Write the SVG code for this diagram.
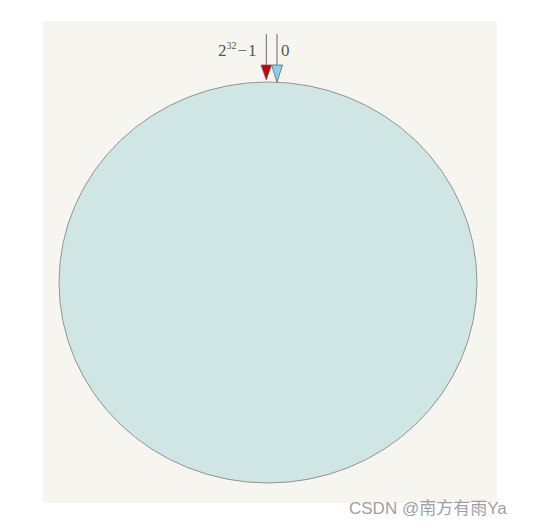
<svg xmlns="http://www.w3.org/2000/svg" width="537" height="525" viewBox="0 0 537 525">
<style>
.lbl{font-family:"Liberation Serif","DejaVu Serif",serif;font-size:17px;fill:#555}
.wm{font-family:"Liberation Sans","Noto Sans CJK SC",sans-serif;font-size:17px;fill:#a0a0a0}
.ln{stroke:#666;stroke-width:1}
.tri{stroke:#666;stroke-width:0.8}
</style>
<rect x="0" y="0" width="537" height="525" fill="#ffffff"/>
<rect x="43" y="21" width="454" height="482" fill="#f6f5f0"/>
<g id="ring">
<ellipse cx="268" cy="282.5" rx="209" ry="200.5" fill="#d0e6e5" stroke="#949494" stroke-width="1"/>
</g>
<g id="connectors">
<line class="ln" x1="266.3" y1="34" x2="266.3" y2="65"/>
<line class="ln" x1="277" y1="34" x2="277" y2="65"/>
</g>
<g id="end">
<polygon class="tri" points="261,65 271.5,65 266.3,80" fill="#c4000f"/>
<text class="lbl" x="218" y="56">2<tspan font-size="10" dy="-7">32</tspan><tspan dy="7" dx="1">−</tspan><tspan dx="1">1</tspan></text>
</g>
<g id="start">
<polygon class="tri" points="271.5,65 282.5,65 277,82" fill="#8dcdf0"/>
<text class="lbl" x="281" y="56">0</text>
</g>
<text class="wm" x="349" y="514">CSDN @南方有雨Ya</text>
</svg>
